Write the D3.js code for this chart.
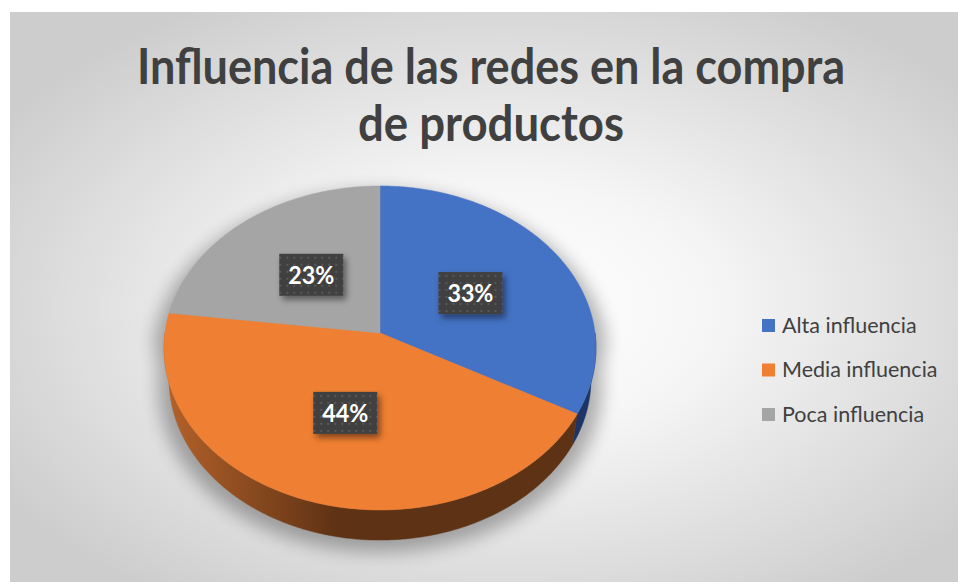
<!DOCTYPE html>
<html>
<head>
<meta charset="utf-8">
<script src="https://cdn.jsdelivr.net/npm/d3@7"></script>
<style>
  body { margin: 0; background: #fff; }
  svg { display: block; }
</style>
</head>
<body>
<svg id="chart" width="958" height="582"></svg>
<script>
// data
var categories = ["Alta influencia", "Media influencia", "Poca influencia"];
var values = [33, 44, 23];
var colors = ["#4472C4", "#EF7F32", "#A5A5A5"];
var sideColors = [["#22407a", "#1c3566"], ["#b4622a", "#5e3214"], ["#7a7a7a", "#5a5a5a"]];
var titleLines = ["Influencia de las redes en la compra", "de productos"];
var titleWidths = [708, 266];

var width = 958, height = 582;
var svg = d3.select("#chart");
var defs = svg.append("defs");

// background
var bg = defs.append("radialGradient").attr("id", "bgGrad")
    .attr("cx", "52%").attr("cy", "52%").attr("r", "62%");
bg.append("stop").attr("offset", "0%").attr("stop-color", "#ffffff");
bg.append("stop").attr("offset", "35%").attr("stop-color", "#f6f6f6");
bg.append("stop").attr("offset", "100%").attr("stop-color", "#cdcdcd");

svg.append("rect")
    .attr("x", 10).attr("y", 12)
    .attr("width", width - 10).attr("height", height - 12)
    .attr("fill", "url(#bgGrad)");

// 3d projection of the pie
var cx = 380, cy = 333;
var elev = Math.asin(0.747);
var sA = Math.sin(elev), cA = Math.cos(elev);
var camD = 7.19, focal = 1546, thick = 0.225;

function project(theta, k, y) {
    var x = k * Math.sin(theta), z = -k * Math.cos(theta);
    var yc = z * sA - y * cA;
    var dc = z * cA + y * sA;
    return [cx + focal * x / (camD - dc), cy + focal * yc / (camD - dc)];
}

var pie = d3.pie().sort(null).value(function(d) { return d; });
var arcs = pie(values);
var step = Math.PI / 360;

function rimPoints(a0, a1, y) {
    var pts = [];
    var n = Math.max(2, Math.ceil((a1 - a0) / step));
    for (var i = 0; i <= n; i++) pts.push(project(a0 + (a1 - a0) * i / n, 1, y));
    return pts;
}

var line = d3.line();

// shadow
var shadow = defs.append("filter").attr("id", "pieShadow")
    .attr("x", "-20%").attr("y", "-20%").attr("width", "140%").attr("height", "140%");
shadow.append("feGaussianBlur").attr("stdDeviation", 9);

var outline = rimPoints(Math.PI / 2, 3 * Math.PI / 2, -thick)
    .concat(rimPoints(3 * Math.PI / 2, 5 * Math.PI / 2, 0));
svg.append("path")
    .attr("d", line(outline.map(function(p) {
        return [cx + (p[0] - cx) * 1.05, cy + 8 + (p[1] - cy) * 1.02];
    })) + "Z")
    .attr("fill", "#000")
    .attr("opacity", 0.3)
    .attr("filter", "url(#pieShadow)");

// sides
arcs.forEach(function(a, i) {
    var lo = Math.max(a.startAngle, Math.PI / 2);
    var hi = Math.min(a.endAngle, 3 * Math.PI / 2);
    if (hi <= lo) return;
    var g = defs.append("linearGradient").attr("id", "side" + i)
        .attr("gradientUnits", "userSpaceOnUse")
        .attr("x1", 165).attr("x2", 596).attr("y1", 0).attr("y2", 0);
    g.append("stop").attr("offset", "0%").attr("stop-color", sideColors[i][0]);
    g.append("stop").attr("offset", "40%").attr("stop-color", sideColors[i][1]);
    g.append("stop").attr("offset", "100%").attr("stop-color", sideColors[i][1]);
    var top = rimPoints(lo, hi, 0);
    var bottom = rimPoints(lo, hi, -thick).reverse();
    svg.append("path")
        .attr("d", line(top.concat(bottom)) + "Z")
        .attr("fill", i === 0 ? sideColors[0][1] : "url(#side" + i + ")")
        .attr("stroke", i === 0 ? sideColors[0][1] : "url(#side" + i + ")")
        .attr("stroke-width", 0.5);
});

// top faces
arcs.forEach(function(a, i) {
    var pts = [[cx, cy]].concat(rimPoints(a.startAngle, a.endAngle, 0));
    svg.append("path")
        .attr("d", line(pts) + "Z")
        .attr("fill", colors[i])
        .attr("stroke", colors[i])
        .attr("stroke-width", 0.5);
});

// data labels
var pat = defs.append("pattern").attr("id", "dots")
    .attr("patternUnits", "userSpaceOnUse")
    .attr("width", 7).attr("height", 7);
pat.append("rect").attr("width", 7).attr("height", 7).attr("fill", "#404040");
pat.append("rect").attr("x", 3).attr("y", 3).attr("width", 2).attr("height", 2).attr("fill", "#585858");

var boxShadow = defs.append("filter").attr("id", "boxShadow")
    .attr("x", "-30%").attr("y", "-30%").attr("width", "170%").attr("height", "170%");
boxShadow.append("feDropShadow")
    .attr("dx", 3).attr("dy", 4).attr("stdDeviation", 3)
    .attr("flood-color", "#000").attr("flood-opacity", 0.45);

var total = d3.sum(values);
arcs.forEach(function(a) {
    var mid = (a.startAngle + a.endAngle) / 2;
    var p = project(mid, 0.5, 0);
    var g = svg.append("g").attr("transform", "translate(" + p[0] + "," + p[1] + ")");
    g.append("rect")
        .attr("x", -32).attr("y", -21)
        .attr("width", 64).attr("height", 42)
        .attr("fill", "url(#dots)")
        .attr("filter", "url(#boxShadow)");
    g.append("text")
        .attr("text-anchor", "middle")
        .attr("dy", "0.36em")
        .attr("font-family", "Lato, 'Open Sans', sans-serif")
        .attr("font-weight", "bold")
        .attr("font-size", "25px")
        .attr("textLength", 46)
        .attr("lengthAdjust", "spacingAndGlyphs")
        .attr("fill", "#fff")
        .text(Math.round(a.data / total * 100) + "%");
});

// title
svg.selectAll(".title")
    .data(titleLines)
    .enter().append("text")
    .attr("class", "title")
    .attr("x", 491)
    .attr("y", function(d, i) { return 84 + i * 57; })
    .attr("text-anchor", "middle")
    .attr("font-family", "Lato, 'Open Sans', sans-serif")
    .attr("font-weight", "bold")
    .attr("font-size", "50px")
    .attr("textLength", function(d, i) { return titleWidths[i]; })
    .attr("lengthAdjust", "spacingAndGlyphs")
    .attr("fill", "#404040")
    .text(function(d) { return d; });

// legend
var legend = svg.selectAll(".legend")
    .data(categories)
    .enter().append("g")
    .attr("class", "legend")
    .attr("transform", function(d, i) { return "translate(762," + (325 + i * 44.5) + ")"; });

legend.append("rect")
    .attr("x", 0).attr("y", -6)
    .attr("width", 13).attr("height", 13)
    .attr("fill", function(d, i) { return colors[i]; });

legend.append("text")
    .attr("x", 20)
    .attr("dy", "0.36em")
    .attr("font-family", "Lato, 'Open Sans', sans-serif")
    .attr("font-size", "21.5px")
    .attr("fill", "#404040")
    .text(function(d) { return d; });
</script>
</body>
</html>
